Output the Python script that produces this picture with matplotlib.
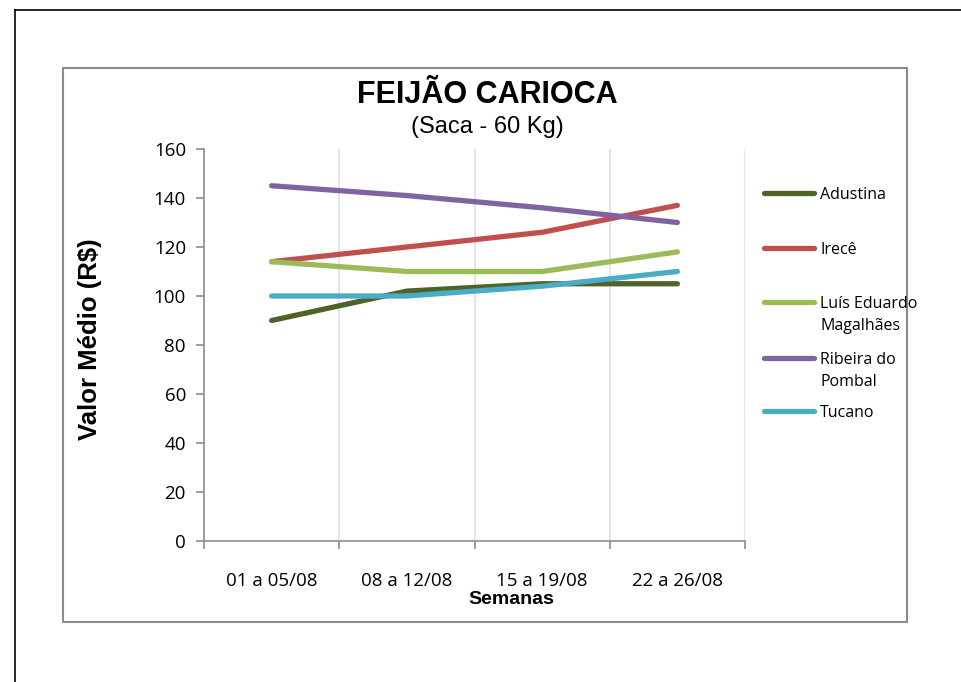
import matplotlib
matplotlib.use("Agg")
import matplotlib.pyplot as plt
from matplotlib.lines import Line2D
from matplotlib.patches import Rectangle

categories = ["01 a 05/08", "08 a 12/08", "15 a 19/08", "22 a 26/08"]
series_names = ["Adustina", "Irecê", "Luís Eduardo\nMagalhães", "Ribeira do\nPombal", "Tucano"]
adustina = [90, 102, 105, 105]
irece = [114, 120, 126, 137]
luis_eduardo = [114, 110, 110, 118]
ribeira = [145, 141, 136, 130]
tucano = [100, 100, 104, 110]
yticks = [0, 20, 40, 60, 80, 100, 120, 140, 160]

colors = ["#4F6228", "#C0504D", "#9BBB59", "#8064A2", "#4BACC6"]
values = [adustina, irece, luis_eduardo, ribeira, tucano]

W, H = 961, 682
fig = plt.figure(figsize=(W / 100, H / 100), dpi=100)
fig.patch.set_facecolor("white")

def fx(px):
    return px / W

def fy(py):
    return 1 - py / H

# outer page lines
fig.add_artist(Line2D([fx(15), fx(961)], [fy(10), fy(10)], color="black", lw=1.2))
fig.add_artist(Line2D([fx(15), fx(15)], [fy(10), fy(682)], color="black", lw=1.2))
# chart frame
fig.add_artist(Rectangle((fx(63), fy(622)), fx(907) - fx(63), fy(68) - fy(622),
                         fill=False, edgecolor="#8C8C8C", lw=1.5))

ax = fig.add_axes([fx(204), fy(541), fx(745) - fx(204), fy(149) - fy(541)])
x = list(range(len(categories)))
for name, vals, c in zip(series_names, values, colors):
    ax.plot(x, vals, color=c, lw=3.8, solid_capstyle="round", zorder=3)

ax.set_xlim(-0.5, len(categories) - 0.5)
ax.set_ylim(0, 160)
ax.set_yticks(yticks)
ax.set_yticklabels([str(v) for v in yticks], fontsize=13.5, family="Open Sans")
ax.set_xticks([i - 0.5 for i in range(len(categories) + 1)])
ax.set_xticklabels([])
ax.set_xticks(x, minor=True)
ax.set_xticklabels(categories, minor=True, fontsize=13.5, family="Open Sans")
ax.tick_params(axis="x", which="minor", length=0, pad=22)
ax.tick_params(axis="x", which="major", length=6, direction="out", color="#8C8C8C", width=1.2)
ax.tick_params(axis="y", length=6, direction="out", color="#8C8C8C", width=1.2, pad=7)

for s in ["top", "right"]:
    ax.spines[s].set_visible(False)
for s in ["left", "bottom"]:
    ax.spines[s].set_color("#8C8C8C")
    ax.spines[s].set_linewidth(1.2)

for xv in [0.5, 1.5, 2.5, 3.5]:
    ax.axvline(xv, color="#E2DEEC", lw=1.2, zorder=1)

fig.text(fx(511), fy(600), "Semanas", fontsize=14, fontweight="bold",
         family="Liberation Sans", ha="center", va="center")
fig.text(fx(90), fy(339), "Valor Médio (R$)", rotation=90, fontsize=18.5, fontweight="bold",
         family="Liberation Sans", ha="center", va="center")

fig.text(fx(487), fy(95), "FEIJÃO CARIOCA", fontsize=22, fontweight="bold",
         family="Liberation Sans", ha="center", va="center")
fig.text(fx(487), fy(127), "(Saca - 60 Kg)", fontsize=17,
         family="Liberation Sans", ha="center", va="center")

# legend
leg_y = [193, 248, 302, 358, 411]
for name, c, yy in zip(series_names, colors, leg_y):
    fig.add_artist(Line2D([fx(764), fx(814)], [fy(yy), fy(yy)], color=c, lw=3.8,
                          solid_capstyle="round"))
    fig.text(fx(820), fy(yy - 6), name, fontsize=11.5, family="Open Sans",
             ha="left", va="top", linespacing=1.5)

fig.savefig("out.png", dpi=100, facecolor="white")
